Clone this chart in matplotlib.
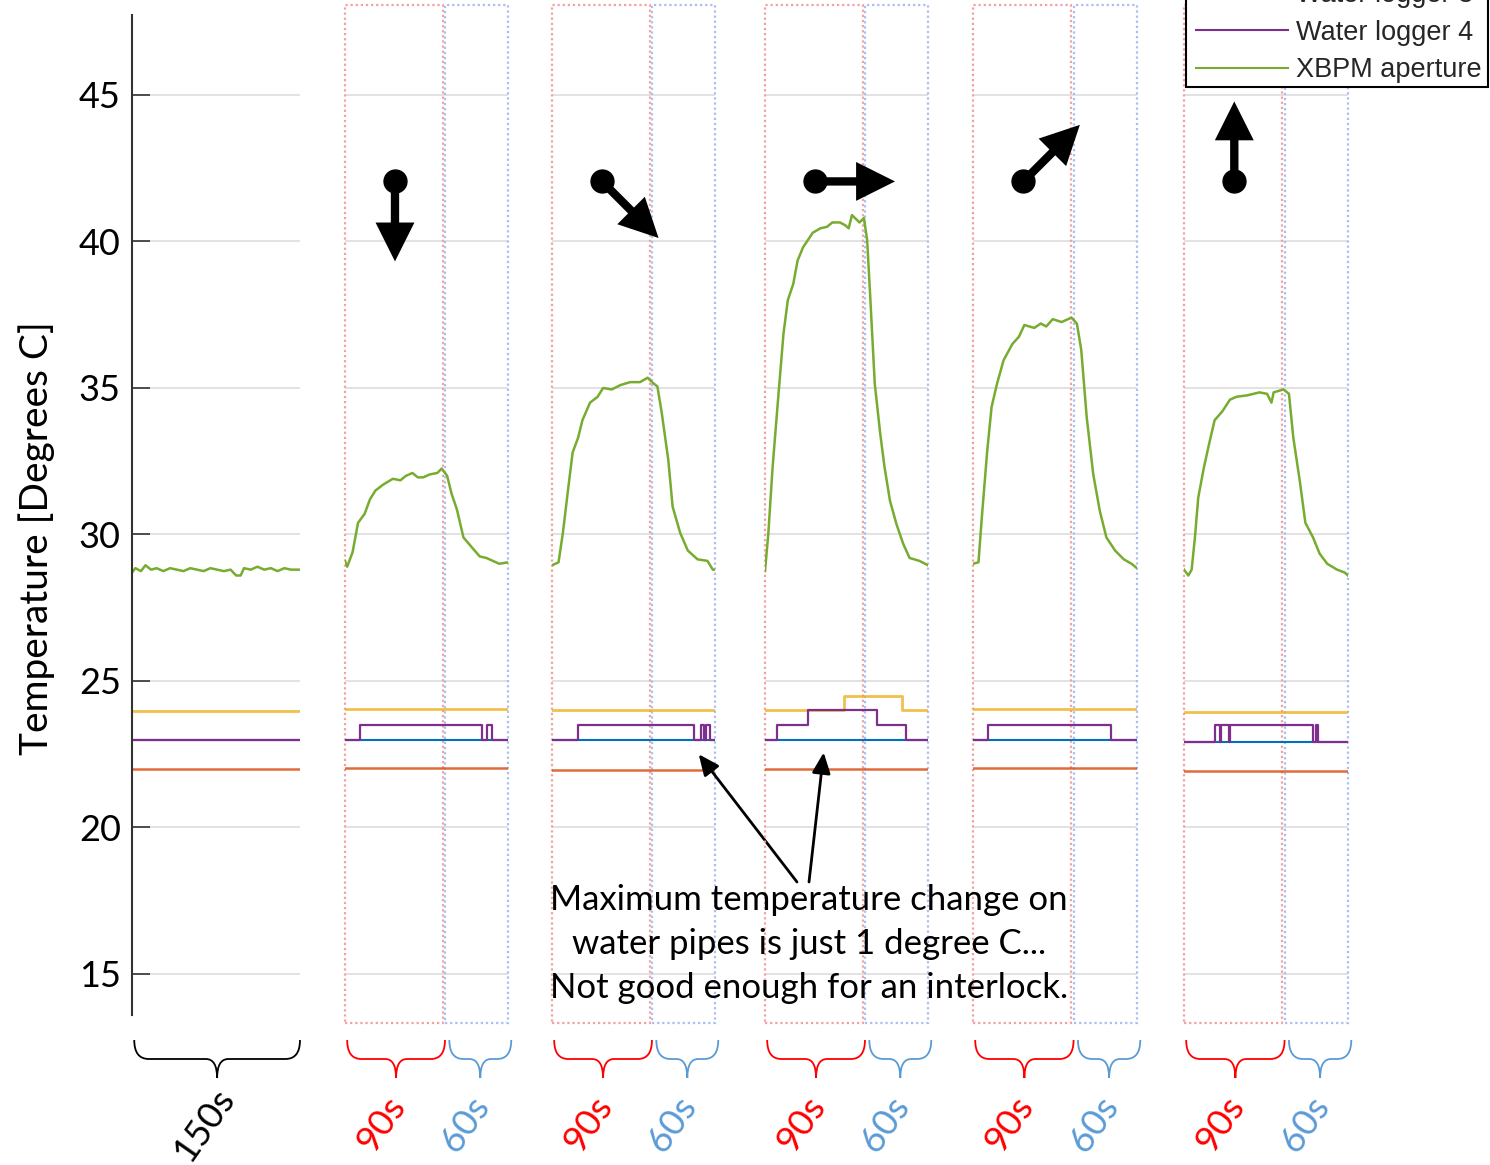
import matplotlib.pyplot as plt
from matplotlib.patches import Rectangle, FancyArrowPatch, PathPatch
from matplotlib.path import Path
from matplotlib.lines import Line2D
import numpy as np

plt.rcParams['font.family'] = ['Lato', 'DejaVu Sans']

# ---- data (time [s] within each run, temperature [deg C]) ----
# XBPM aperture, run 0 is the 150 s baseline, runs 1-5 are 90 s beam on + 60 s off
xbpm_t0 = [0, 3, 8, 12, 17, 22, 28, 34, 40, 46, 52, 58, 64, 70, 76, 82, 88, 93, 97, 100, 106, 112, 118, 124, 130, 136, 142, 150]
xbpm_T0 = [28.7, 28.85, 28.75, 28.95, 28.8, 28.85, 28.75, 28.85, 28.8, 28.75, 28.85, 28.8, 28.75, 28.85, 28.8, 28.75,
           28.8, 28.6, 28.6, 28.85, 28.8, 28.9, 28.8, 28.85, 28.75, 28.85, 28.8, 28.8]
xbpm_t1 = [0, 2, 7, 12, 18, 23, 28, 35, 44, 51, 56, 62, 67, 72, 78, 85, 89, 94, 98, 103, 109, 117, 124, 130, 136, 142, 150]
xbpm_T1 = [29.1, 28.9, 29.4, 30.4, 30.7, 31.2, 31.5, 31.7, 31.9, 31.85, 32.0, 32.1, 31.95, 31.95, 32.05, 32.1, 32.25,
           32.0, 31.4, 30.85, 29.9, 29.55, 29.25, 29.2, 29.1, 29.0, 29.05]
xbpm_t2 = [0, 6, 10, 15, 19, 24, 28, 35, 42, 47, 55, 63, 72, 81, 88, 92, 97, 101, 107, 111, 118, 125, 134, 143, 148, 150]
xbpm_T2 = [28.95, 29.05, 30.05, 31.6, 32.8, 33.3, 33.9, 34.5, 34.7, 35.0, 34.95, 35.1, 35.2, 35.2, 35.35, 35.2, 35.05,
           34.15, 32.55, 30.95, 30.05, 29.45, 29.15, 29.1, 28.8, 28.8]
xbpm_t3 = [0, 3, 7, 12, 17, 21, 26, 30, 35, 44, 51, 57, 62, 69, 74, 77, 80, 87, 91, 94, 97, 101, 106, 110, 115, 121,
           127, 133, 142, 150]
xbpm_T3 = [28.75, 30.0, 32.3, 34.6, 36.85, 38.0, 38.55, 39.35, 39.8, 40.3, 40.45, 40.5, 40.65, 40.65, 40.55, 40.45,
           40.9, 40.65, 40.8, 40.05, 38.0, 35.15, 33.45, 32.3, 31.15, 30.35, 29.7, 29.2, 29.1, 28.95]
xbpm_t4 = [0, 5, 8, 13, 17, 22, 28, 36, 42, 47, 56, 62, 67, 73, 81, 90, 95, 99, 104, 110, 116, 122, 130, 138, 145, 150]
xbpm_T4 = [29.0, 29.05, 30.55, 32.85, 34.35, 35.15, 35.95, 36.5, 36.75, 37.15, 37.05, 37.2, 37.1, 37.35, 37.25, 37.4,
           37.2, 36.3, 34.0, 32.05, 30.8, 29.9, 29.45, 29.15, 29.0, 28.85]
xbpm_t5 = [0, 4, 7, 10, 13, 18, 23, 28, 35, 42, 48, 58, 69, 76, 80, 82, 91, 96, 100, 106, 111, 118, 124, 131, 140, 147, 150]
xbpm_T5 = [28.8, 28.6, 28.8, 29.9, 31.25, 32.25, 33.1, 33.9, 34.2, 34.6, 34.7, 34.75, 34.85, 34.8, 34.5, 34.85, 34.95,
           34.8, 33.3, 31.8, 30.4, 29.9, 29.35, 29.0, 28.8, 28.7, 28.6]
xbpm_t = [xbpm_t0, xbpm_t1, xbpm_t2, xbpm_t3, xbpm_t4, xbpm_t5]
xbpm_T = [xbpm_T0, xbpm_T1, xbpm_T2, xbpm_T3, xbpm_T4, xbpm_T5]

# water loggers: step changes (time the value starts, value)
wl1_level = [23.0, 22.98, 22.98, 22.98, 23.0, 22.93]
wl2_level = [22.0, 22.03, 21.97, 21.98, 22.02, 21.93]
wl3_t = [[0], [0], [0], [0, 73, 126], [0], [0]]
wl3_T = [[23.98], [24.05], [24.0], [24.0, 24.5, 24.0], [24.05], [23.94]]
wl4_t = [[0], [0, 14, 126, 131, 135], [0, 24, 131, 137, 140, 142, 145], [0, 11, 40, 103, 130], [0, 14, 126],
         [0, 28, 33, 34, 41, 42, 118, 121, 123]]
wl4_T = [[23.0], [23.0, 23.5, 23.0, 23.5, 23.0], [23.0, 23.5, 23.0, 23.5, 23.0, 23.5, 23.0],
         [23.0, 23.5, 24.0, 23.5, 23.0], [23.0, 23.5, 23.0],
         [22.93, 23.5, 22.93, 23.5, 22.93, 23.5, 22.93, 23.5, 22.93]]

labels = ['Water logger 1', 'Water logger 2', 'Water logger 3', 'Water logger 4', 'XBPM aperture']
colors = ['#0072BD', '#D95319', '#EDB120', '#7E2F8E', '#77AC30']
run_len = 150
on_len = 90
arrow_angle = [-90, -45, 0, 45, 90]  # beam movement direction per run

# ---- layout ----
W, H = 1490, 1165
panel_px = [(132, 300), (345, 508), (552, 715), (765, 928), (973, 1137), (1184, 1348)]
ax_top, ax_bot = 15, 1015

fig = plt.figure(figsize=(W / 100, H / 100), dpi=100)
axes = []
for i, (x0, x1) in enumerate(panel_px):
    ax = fig.add_axes([x0 / W, 1 - ax_bot / H, (x1 - x0) / W, (ax_bot - ax_top) / H])
    ax.patch.set_visible(False)
    ax.set_xlim(0, run_len)
    ax.set_ylim(13.6, 47.73)
    ax.set_yticks([15, 20, 25, 30, 35, 40, 45])
    ax.set_xticks([])
    ax.grid(axis='y', color='#e2e2e2', lw=1.4)
    ax.set_axisbelow(True)
    for s in ['top', 'right', 'bottom']:
        ax.spines[s].set_visible(False)
    if i == 0:
        ax.spines['left'].set_color('#333333')
        ax.spines['left'].set_linewidth(1.5)
        ax.tick_params(axis='y', direction='in', length=13, width=1.2, color='#333333',
                       labelsize=26, pad=8)
    else:
        ax.spines['left'].set_visible(False)
        ax.tick_params(axis='y', length=0, labelleft=False)
    axes.append(ax)

    # loggers
    ax.plot([0, run_len], [wl1_level[i]] * 2, color=colors[0], lw=1.5)
    ax.plot([0, run_len], [wl2_level[i]] * 2, color=colors[1], lw=1.8, alpha=0.85)
    ax.plot(wl3_t[i] + [run_len], wl3_T[i] + [wl3_T[i][-1]], color=colors[2], lw=2.0, alpha=0.8,
            drawstyle='steps-post')
    ax.plot(wl4_t[i] + [run_len], wl4_T[i] + [wl4_T[i][-1]], color=colors[3], lw=1.6,
            drawstyle='steps-post')
    ax.plot(xbpm_t[i], xbpm_T[i], color=colors[4], lw=1.8)

    xt = ax.get_xaxis_transform()
    if i == 0:
        spans = [((2, 150), 'black', '150s', 65)]
    else:
        ax.add_patch(Rectangle((0, -0.008), on_len, 1.018, transform=xt, fill=False, ec='#f4a0a0',
                               ls=(0, (1, 1.3)), lw=1.6, clip_on=False, zorder=1.5))
        ax.add_patch(Rectangle((on_len + 2, -0.008), run_len - on_len - 2, 1.018, transform=xt, fill=False,
                               ec='#a9bff0', ls=(0, (1, 1.3)), lw=1.6, clip_on=False, zorder=1.5))
        spans = [((2, 92), '#ff0000', '90s', 33), ((96, 153), '#5b9bd5', '60s', 111)]

    # braces and duration labels
    for (t0, t1), col, txt, tl in spans:
        tc = (t0 + t1) / 2
        rc, rt = 13, 10
        yt, ym, yb = -0.025, -0.044, -0.063
        verts = [(t0, yt), (t0, ym), (t0 + rc, ym), (tc - rt, ym), (tc, ym), (tc, yb),
                 (tc, ym), (tc + rt, ym), (t1 - rc, ym), (t1, ym), (t1, yt)]
        codes = [Path.MOVETO, Path.CURVE3, Path.CURVE3, Path.LINETO, Path.CURVE3, Path.CURVE3,
                 Path.CURVE3, Path.CURVE3, Path.LINETO, Path.CURVE3, Path.CURVE3]
        ax.add_patch(PathPatch(Path(verts, codes), transform=xt, fill=False, ec=col, lw=1.3,
                               clip_on=False))
        ax.text(tl, -0.109, txt, transform=xt, rotation=55, ha='center', va='center',
                color=col, fontsize=26.5)

# direction arrows
for i, ang in enumerate(arrow_angle):
    ax = axes[i + 1]
    tail = np.array([46, 42.05])
    p0 = ax.transData.transform(tail)
    p1 = p0 + 80 * np.array([np.cos(np.radians(ang)), np.sin(np.radians(ang))])
    tip = ax.transData.inverted().transform(p1)
    ax.add_patch(FancyArrowPatch(tail, tip, arrowstyle='simple,head_length=28,head_width=28,tail_width=6',
                                 mutation_scale=1, shrinkA=0, shrinkB=0, fc='k', ec='none',
                                 clip_on=False, zorder=5))
    ax.plot(*tail, 'o', ms=16.5, color='k', clip_on=False, zorder=5)

# annotation
fig.text(809 / W, 1 - 944 / H, 'Maximum temperature change on\nwater pipes is just 1 degree C...\n'
         'Not good enough for an interlock.', ha='center', va='center', fontsize=25,
         linespacing=1.45, multialignment='center')
for ax, xy, tx in [(axes[2], (135, 22.5), 797), (axes[3], (54, 22.56), 809)]:
    ax.annotate('', xy=xy, xycoords='data', xytext=(tx / W, 1 - 882 / H), textcoords='figure fraction',
                arrowprops=dict(arrowstyle='-|>,head_length=0.9,head_width=0.4', lw=2, color='k',
                                shrinkA=0, shrinkB=0, mutation_scale=14))

fig.text(37 / W, 1 - 538 / H, 'Temperature [Degrees C]', rotation=90, ha='center', va='center', fontsize=28)

# legend (frame drawn separately: it runs off the top of the figure)
fig.add_artist(Rectangle((1186 / W, 1 - 87 / H), 302 / W, 250 / H, transform=fig.transFigure,
                         fc='white', ec='black', lw=1.5, zorder=4, clip_on=False))
handles = [Line2D([], [], color=c, lw=1.5) for c in colors]
leg = fig.legend(handles, labels, loc='lower right', bbox_to_anchor=(1482 / W, 1 - 83 / H),
                 prop={'family': 'Liberation Sans', 'size': 19.5}, frameon=False,
                 borderaxespad=0, borderpad=0, handlelength=3.4,
                 handletextpad=0.3, labelspacing=0.42)
leg.set_zorder(5)
for t in leg.get_texts():
    t.set_color('#262626')

fig.savefig('out.png', dpi=100)
